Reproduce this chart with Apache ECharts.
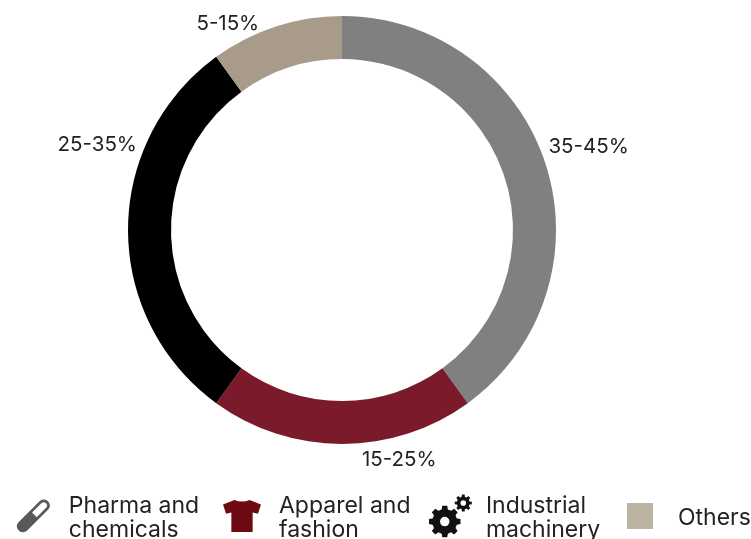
<!DOCTYPE html>
<html>
<head>
<meta charset="utf-8">
<style>html,body{margin:0;padding:0;background:#fff}#c{width:751px;height:539px}</style>
<script src="https://cdn.jsdelivr.net/npm/echarts@6/dist/echarts.min.js"></script>
</head>
<body>
<div id="c"></div>
<script>
const categories = ['Pharma and\nchemicals', 'Apparel and\nfashion', 'Industrial\nmachinery', 'Others'];
const values = [40, 20, 30, 10];
const rangeLabels = ['35-45%', '15-25%', '25-35%', '5-15%'];
const sliceColors = ['#808080', '#7a1a2a', '#000000', '#a89b89'];
const legendColors = ['#58595b', '#6e0b12', '#111111', '#bdb3a3'];
const labelNudges = [[-6, -16], [13, 14], [18, -85], [-9, -1]];
const legendLefts = [17, 223, 429, 627];
const legendGaps = [19, 18, 14, 25];
const iconSizes = [[33, 37], [38, 36], [43, 47], [26, 30]];

function gear(cx, cy, ro, ri, hole, teeth) {
  let d = '';
  const step = Math.PI * 2 / teeth;
  for (let i = 0; i < teeth; i++) {
    const a = i * step;
    const pts = [[ri, a - step * 0.32], [ro, a - step * 0.2], [ro, a + step * 0.2], [ri, a + step * 0.32]];
    pts.forEach((p, j) => {
      d += ((i === 0 && j === 0) ? 'M' : 'L') + (cx + p[0] * Math.cos(p[1])).toFixed(2) + ' ' + (cy + p[0] * Math.sin(p[1])).toFixed(2) + ' ';
    });
  }
  d += 'Z M' + (cx + hole) + ' ' + cy + ' A' + hole + ' ' + hole + ' 0 1 0 ' + (cx - hole) + ' ' + cy + ' A' + hole + ' ' + hole + ' 0 1 0 ' + (cx + hole) + ' ' + cy + ' Z ';
  return d;
}
// Each icon ends with an empty sub-path that leaves room below it, lifting the glyph against its text.
const icons = [
  'path://M5.3 69.3 L69.3 5.3 A18 18 0 0 1 94.7 30.7 L30.7 94.7 A18 18 0 0 1 5.3 69.3 Z M46 40 L60 54 L89 25 A10 10 0 0 0 75 11 Z M50 112 L50 112',
  'path://M30 0 Q50 8 70 0 L100 12 L92 36 L78 33 L78 84 L22 84 L22 33 L8 36 L0 12 Z M50 94.5 L50 94.5',
  'path://' + gear(37, 63, 37, 29, 11, 8) + gear(80, 20, 20, 15, 6.5, 8) + 'M50 109.3 L50 109.3',
  'path://M0 0 L100 0 L100 100 L0 100 Z M50 115.4 L50 115.4'
];

const chart = echarts.init(document.getElementById('c'), null, { renderer: 'canvas' });
chart.setOption({
  animation: false,
  backgroundColor: '#fff',
  legend: categories.map((name, i) => ({
    left: legendLefts[i],
    top: i === 3 ? 501 : 489,
    show: true,
    orient: 'horizontal',
    padding: 0,
    itemGap: 0,
    itemWidth: iconSizes[i][0],
    itemHeight: iconSizes[i][1],
    selectedMode: false,
    textStyle: {
      fontFamily: 'Inter', fontSize: 23, color: '#222', lineHeight: 24, padding: [10, 0, 0, legendGaps[i] - 5]
    },
    data: [{ name, icon: icons[i], itemStyle: { color: legendColors[i] } }]
  })),
  series: [{
    type: 'pie',
    center: [342, 230],
    radius: [171, 214],
    startAngle: 90,
    clockwise: true,
    silent: true,
    label: { show: true, position: 'outside', fontFamily: 'Inter', fontSize: 20.5, color: '#222' },
    labelLine: { show: false, length: 2, length2: 2 },
    labelLayout: (p) => ({ dx: labelNudges[p.dataIndex][0], dy: labelNudges[p.dataIndex][1] }),
    data: categories.map((name, i) => ({
      name,
      value: values[i],
      itemStyle: { color: sliceColors[i] },
      label: { formatter: rangeLabels[i] }
    }))
  }]
});
</script>
</body>
</html>
